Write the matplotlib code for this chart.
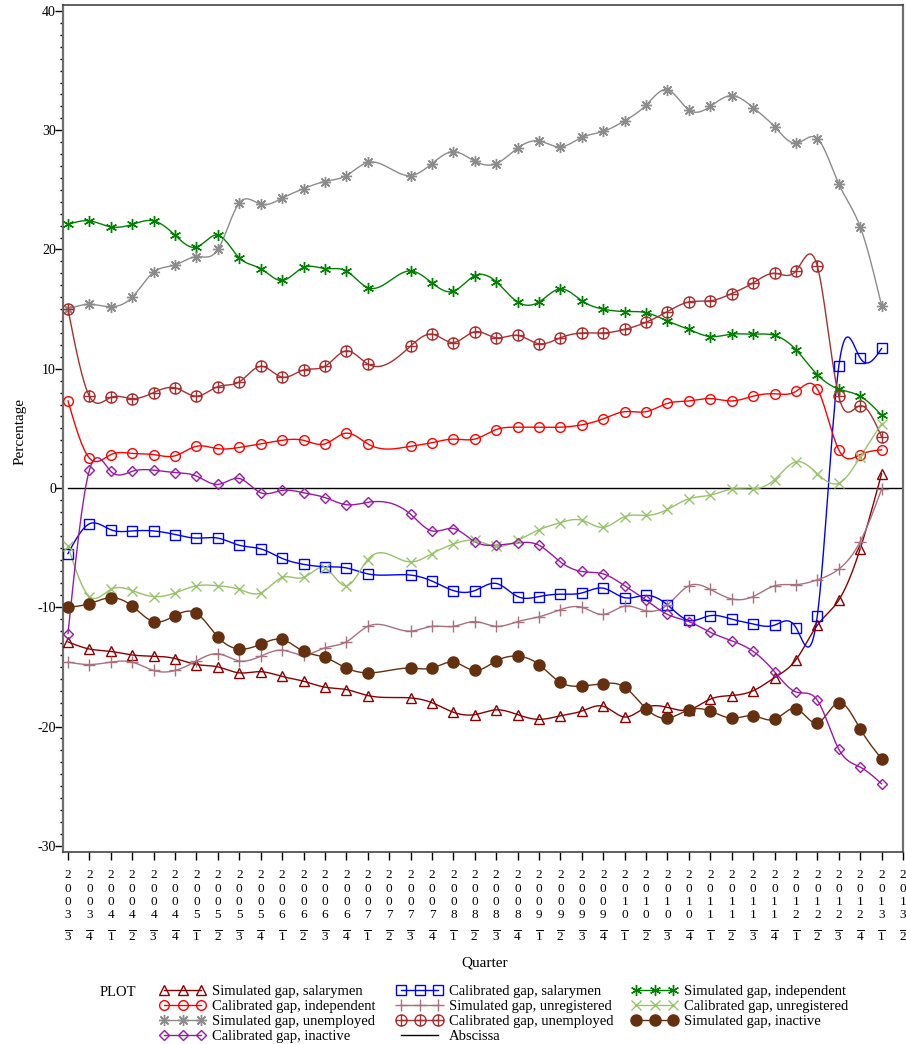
import numpy as np
import matplotlib
matplotlib.use("Agg")
import matplotlib.pyplot as plt
from matplotlib.path import Path
from matplotlib.lines import Line2D

plt.rcParams['font.family'] = ['Liberation Serif', 'DejaVu Serif']
plt.rcParams['mathtext.fontset'] = 'custom'
plt.rcParams['mathtext.rm'] = 'Liberation Serif'
plt.rcParams['axes.unicode_minus'] = False

# quarters on the axis (2003:3 .. 2013:2)
quarters = ['2003-3', '2003-4',
            '2004-1', '2004-2', '2004-3', '2004-4',
            '2005-1', '2005-2', '2005-3', '2005-4',
            '2006-1', '2006-2', '2006-3', '2006-4',
            '2007-1', '2007-2', '2007-3', '2007-4',
            '2008-1', '2008-2', '2008-3', '2008-4',
            '2009-1', '2009-2', '2009-3', '2009-4',
            '2010-1', '2010-2', '2010-3', '2010-4',
            '2011-1', '2011-2', '2011-3', '2011-4',
            '2012-1', '2012-2', '2012-3', '2012-4',
            '2013-1', '2013-2']

# quarters with observations (no 2007-2, nothing after 2013-1)
obs_quarters = [q for q in quarters[:39] if q != '2007-2']

sim_salarymen = [-12.9, -13.5, -13.7, -14.0, -14.1, -14.3, -14.8, -15.0, -15.5, -15.4,
                 -15.8, -16.2, -16.7, -16.9, -17.4, -17.6, -18.0, -18.8, -19.0, -18.6,
                 -19.0, -19.4, -19.1, -18.7, -18.3, -19.2, -18.4, -18.4, -18.6, -17.7,
                 -17.4, -17.0, -15.9, -14.4, -11.5, -9.4, -5.1, 1.2]
cal_salarymen = [-5.5, -3.0, -3.5, -3.6, -3.6, -3.9, -4.2, -4.2, -4.8, -5.1,
                 -5.9, -6.4, -6.6, -6.7, -7.2, -7.3, -7.8, -8.6, -8.6, -8.0,
                 -9.1, -9.1, -8.9, -8.8, -8.4, -9.2, -9.0, -9.8, -11.1, -10.7,
                 -11.0, -11.4, -11.5, -11.7, -10.7, 10.2, 10.9, 11.7]
sim_independent = [22.1, 22.4, 21.9, 22.1, 22.4, 21.2, 20.2, 21.2, 19.3, 18.4,
                   17.4, 18.5, 18.4, 18.2, 16.8, 18.2, 17.2, 16.5, 17.8, 17.3,
                   15.6, 15.6, 16.7, 15.7, 15.0, 14.8, 14.7, 14.0, 13.3, 12.7,
                   12.9, 12.9, 12.8, 11.6, 9.5, 8.3, 7.7, 6.1]
cal_independent = [7.3, 2.5, 2.8, 2.9, 2.8, 2.7, 3.5, 3.3, 3.4, 3.7,
                   4.0, 4.0, 3.7, 4.6, 3.7, 3.5, 3.8, 4.1, 4.1, 4.9,
                   5.1, 5.1, 5.1, 5.3, 5.8, 6.4, 6.4, 7.1, 7.3, 7.5,
                   7.3, 7.7, 7.9, 8.1, 8.3, 3.2, 2.8, 3.2]
sim_unregistered = [-14.6, -14.8, -14.6, -14.6, -15.3, -15.3, -14.5, -13.9, -14.5, -14.1,
                    -13.6, -14.0, -13.4, -12.9, -11.6, -12.0, -11.6, -11.6, -11.2, -11.6,
                    -11.2, -10.8, -10.2, -10.0, -10.6, -9.9, -10.3, -9.8, -8.2, -8.5,
                    -9.3, -9.1, -8.2, -8.1, -7.7, -6.8, -4.5, -0.1]
cal_unregistered = [-4.9, -9.1, -8.5, -8.6, -9.1, -8.8, -8.2, -8.2, -8.5, -8.8,
                    -7.5, -7.5, -6.7, -8.2, -6.0, -6.2, -5.5, -4.7, -4.4, -4.9,
                    -4.4, -3.5, -2.9, -2.7, -3.3, -2.4, -2.3, -1.8, -0.9, -0.6,
                    -0.1, -0.1, 0.7, 2.2, 1.2, 0.4, 2.6, 5.4]
sim_unemployed = [15.0, 15.4, 15.2, 16.0, 18.1, 18.7, 19.4, 20.0, 23.9, 23.8,
                  24.3, 25.1, 25.7, 26.2, 27.3, 26.2, 27.2, 28.2, 27.4, 27.2,
                  28.5, 29.1, 28.6, 29.4, 29.9, 30.8, 32.1, 33.4, 31.7, 32.0,
                  32.9, 31.9, 30.3, 28.9, 29.3, 25.5, 21.9, 15.3]
cal_unemployed = [15.0, 7.7, 7.6, 7.5, 8.0, 8.4, 7.7, 8.5, 8.9, 10.2,
                  9.3, 9.9, 10.2, 11.5, 10.4, 11.9, 12.9, 12.2, 13.1, 12.6,
                  12.8, 12.1, 12.6, 13.0, 13.0, 13.3, 13.9, 14.8, 15.6, 15.7,
                  16.3, 17.2, 18.0, 18.2, 18.6, 7.7, 6.9, 4.3]
sim_inactive = [-10.0, -9.7, -9.2, -9.9, -11.2, -10.7, -10.5, -12.5, -13.5, -13.1,
                -12.7, -13.7, -14.2, -15.1, -15.5, -15.1, -15.1, -14.6, -15.3, -14.5,
                -14.1, -14.8, -16.3, -16.6, -16.4, -16.7, -18.5, -19.3, -18.6, -18.7,
                -19.3, -19.1, -19.4, -18.5, -19.7, -18.0, -20.2, -22.7]
cal_inactive = [-12.2, 1.5, 1.4, 1.4, 1.5, 1.3, 1.0, 0.3, 0.8, -0.4,
                -0.2, -0.4, -0.8, -1.4, -1.2, -2.2, -3.6, -3.4, -4.5, -4.8,
                -4.6, -4.8, -6.2, -7.0, -7.2, -8.2, -9.4, -10.6, -11.2, -12.1,
                -12.8, -13.7, -15.4, -17.1, -17.8, -21.9, -23.4, -24.8]
abscissa = [0.0] * len(quarters)


def natural_spline(x, y, num=600):
    # SAS-style interpol=spline: natural cubic through every observation
    x = np.asarray(x, float)
    y = np.asarray(y, float)
    n = len(x)
    h = np.diff(x)
    A = np.zeros((n, n))
    r = np.zeros(n)
    A[0, 0] = A[-1, -1] = 1
    for k in range(1, n - 1):
        A[k, k - 1] = h[k - 1]
        A[k, k] = 2 * (h[k - 1] + h[k])
        A[k, k + 1] = h[k]
        r[k] = 6 * ((y[k + 1] - y[k]) / h[k] - (y[k] - y[k - 1]) / h[k - 1])
    M = np.linalg.solve(A, r)
    xs = np.linspace(x[0], x[-1], num)
    j = np.clip(np.searchsorted(x, xs) - 1, 0, n - 2)
    t0 = x[j + 1] - xs
    t1 = xs - x[j]
    hj = h[j]
    ys = (M[j] * t0 ** 3 + M[j + 1] * t1 ** 3) / (6 * hj) \
        + (y[j] / hj - M[j] * hj / 6) * t0 + (y[j + 1] / hj - M[j + 1] * hj / 6) * t1
    return xs, ys


# circle with a cross inside
circ = Path.unit_circle()
cross = Path([(-1, 0), (1, 0), (0, -1), (0, 1)],
             [Path.MOVETO, Path.LINETO, Path.MOVETO, Path.LINETO])
circle_plus = Path.make_compound_path(circ, cross)

series = [
    ('Simulated gap, salarymen', sim_salarymen, '#8B0000', '^', 7, 'none'),
    ('Calibrated gap, salarymen', cal_salarymen, '#0000FF', 's', 6.5, 'none'),
    ('Simulated gap, independent', sim_independent, '#008000', (6, 2, 0), 8, 'none'),
    ('Calibrated gap, independent', cal_independent, '#FF0000', 'o', 7, 'none'),
    ('Simulated gap, unregistered', sim_unregistered, '#A7727D', '+', 8, 'none'),
    ('Calibrated gap, unregistered', cal_unregistered, '#99C26A', 'x', 7, 'none'),
    ('Simulated gap, unemployed', sim_unemployed, '#8C8C8C', (8, 2, 0), 8, 'none'),
    ('Calibrated gap, unemployed', cal_unemployed, '#A93030', circle_plus, 8, 'none'),
    ('Simulated gap, inactive', sim_inactive, '#65300F', 'o', 8, '#65300F'),
    ('Calibrated gap, inactive', cal_inactive, '#9A1AA6', 'D', 5, 'none'),
]

W, H = 906, 1044
fig = plt.figure(figsize=(W / 100, H / 100), dpi=100)
ax = fig.add_axes([63 / W, 1 - 852 / H, 840 / W, 847 / H])

xpos = {q: k for k, q in enumerate(quarters)}
xo = np.array([xpos[q] for q in obs_quarters])

handles = []
for name, vals, col, mk, ms, mfc in series:
    xs, ys = natural_spline(xo, vals)
    ax.plot(xs, ys, color=col, lw=1.0, zorder=2)
    ax.plot(xo, vals, ls='none', marker=mk, ms=ms, mec=col, mfc=mfc, mew=1.0, zorder=3)
    handles.append(Line2D([], [], color=col, lw=1.0, marker=mk, ms=ms, mec=col,
                          mfc=mfc, mew=1.0, label=name))

ax.plot(np.arange(len(quarters)), abscissa, color='black', lw=1.0, zorder=1)
handles.append(Line2D([], [], color='black', lw=1.0, label='Abscissa'))

ax.set_xlim(-0.2335, 39)
ax.set_ylim(-30.52, 40.5)

ax.set_yticks(np.arange(-30, 41, 10))
ax.set_yticks(np.arange(-30, 41, 1), minor=True)
ax.tick_params(axis='y', which='major', length=6, width=1.0, labelsize=10, pad=-1)
ax.tick_params(axis='y', which='minor', length=2.2, width=1.0)

ax.set_xticks(np.arange(len(quarters)))
ax.set_xticklabels([])
ax.tick_params(axis='x', length=5.8, width=1.0)


def below_axis(ypix):
    # pixel row in the figure -> axes fraction under the x axis
    return (852 - ypix) / 847


# year written downwards under each tick, quarter with a bar over it below
trans = ax.get_xaxis_transform()
row_base = [878, 891.5, 905, 918.5]
for k, q in enumerate(quarters):
    yr, qt = q.split('-')
    for ch, yb in zip(yr, row_base):
        ax.text(k, below_axis(yb), ch, transform=trans, ha='center', va='baseline',
                fontsize=9.5, clip_on=False)
    ax.text(k, below_axis(941), r'$\overline{%s}$' % qt, transform=trans,
            ha='center', va='baseline', fontsize=9.5, clip_on=False)

for side in ['left', 'right']:
    ax.spines[side].set_color('#6E6E6E')
    ax.spines[side].set_linewidth(1.6)
for side in ['top', 'bottom']:
    ax.spines[side].set_color('#444444')
    ax.spines[side].set_linewidth(1.2)

fig.text(20 / W, 1 - 432 / H, 'Percentage', rotation=90, ha='center', va='center',
         fontsize=11)
fig.text(485 / W, 1 - 963 / H, 'Quarter', ha='center', va='center', fontsize=11)

# SAS lists the legend row by row, three entries per row
col_left = [160, 397, 632]
for c in range(3):
    hs = handles[c::3]
    fig.legend(hs, [h.get_label() for h in hs], loc='upper left',
               bbox_to_anchor=(col_left[c] / W, 1 - 984.5 / H),
               frameon=False, fontsize=10.5, numpoints=3, handlelength=3.1,
               handletextpad=0.45, labelspacing=0.14, borderaxespad=0, borderpad=0)
fig.text(100 / W, 1 - 993 / H, 'PLOT', ha='left', va='center', fontsize=10.5)

fig.savefig('out.png', dpi=100)
